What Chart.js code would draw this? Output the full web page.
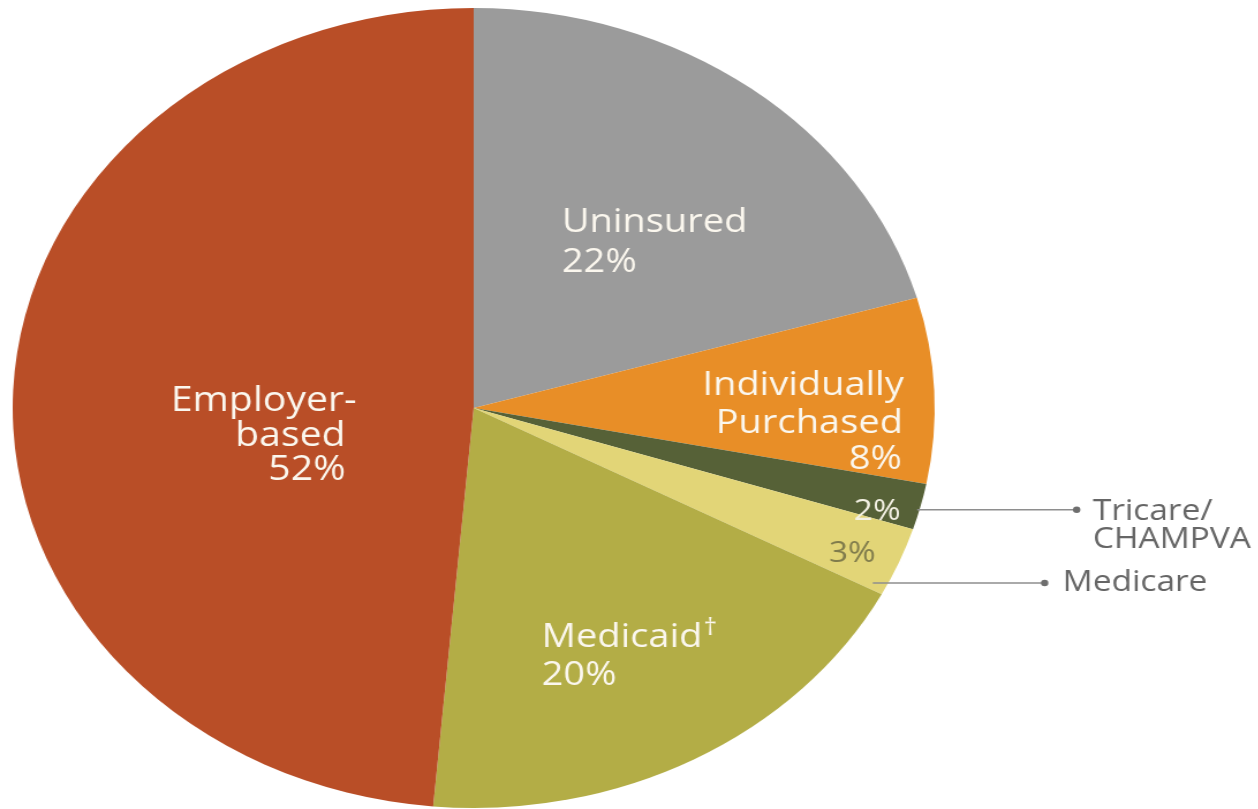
<!DOCTYPE html>
<html>
<head>
<meta charset="utf-8">
<script src="https://cdn.jsdelivr.net/npm/chart.js@4"></script>
<style>
  html, body { margin: 0; padding: 0; background: #ffffff; overflow: hidden; }
  #wrap { width: 1258px; height: 809px; overflow: hidden; }
  #c { transform: scaleX(1.1525); transform-origin: 0 0; display: block; }
</style>
</head>
<body>
<div id="wrap"><canvas id="c" width="1092" height="809"></canvas></div>
<script>
// ---- data ----
const categories = ["Uninsured", "Individually Purchased", "Tricare/CHAMPVA", "Medicare", "Medicaid", "Employer-based"];
const values = [22, 8, 2, 3, 20, 52];
const colors = ["#9b9b9b", "#e88e27", "#566137", "#e2d577", "#b3ad46", "#b94e27"];

// ---- label layout (normalized to pie radius) ----
const insideLabels = [
  { lines: ["Uninsured", "22%"], u: [0.191, 0.191], v: [-0.44, -0.34], align: "left", size: 33, color: "#fbf7ee" },
  { lines: ["Individually", "Purchased", "8%"], u: [0.933, 0.931, 0.929], v: [-0.0325, 0.062, 0.1525], align: "right", size: 33, color: "#fbf7ee" },
  { lines: ["2%"], u: [0.926], v: [0.28], align: "right", size: 29, color: "#f4f1e4" },
  { lines: ["3%"], u: [0.872], v: [0.385], align: "right", size: 29, color: "#807c4c" },
  { lines: ["Medicaid", "20%"], u: [0.1475, 0.1475], v: [0.5975, 0.6925], align: "left", size: 33, color: "#fbf7ee", dagger: 0 },
  { lines: ["Employer-", "based", "52%"], u: [-0.254, -0.278, -0.278], v: [0.0075, 0.095, 0.18], align: "right", size: 34, color: "#fbf7ee" }
];
const calloutLabels = [
  { index: 2, lines: ["Tricare/", "CHAMPVA"], f: 0.575, r: 0.995, dotU: 1.308, textU: 1.343, dy: [10, 38] },
  { index: 3, lines: ["Medicare"], f: 0.906, r: 0.97, dotU: 1.2386, textU: 1.2777, dy: [8] }
];

const FONT = "'Open Sans', 'Noto Sans', sans-serif";

const labelPlugin = {
  id: "pieLabels",
  afterDatasetsDraw(chart) {
    const ctx = chart.ctx;
    const meta = chart.getDatasetMeta(0);
    const a0 = meta.data[0];
    const cx = a0.x, cy = a0.y, R = a0.outerRadius;
    ctx.save();
    ctx.textBaseline = "alphabetic";
    insideLabels.forEach(l => {
      ctx.fillStyle = l.color;
      l.lines.forEach((t, i) => {
        ctx.font = "400 " + l.size + "px " + FONT;
        ctx.textAlign = l.align;
        const x = cx + l.u[i] * R;
        const y = cy + l.v[i] * R;
        ctx.fillText(t, x, y);
        if (l.dagger === i) {
          const w = ctx.measureText(t).width;
          ctx.font = "400 " + Math.round(l.size * 0.7) + "px " + FONT;
          ctx.textAlign = "left";
          ctx.fillText("\u2020", x + w + 1, y - l.size * 0.36);
        }
      });
    });
    calloutLabels.forEach(c => {
      const arc = meta.data[c.index];
      const ang = arc.startAngle + c.f * (arc.endAngle - arc.startAngle);
      const sx = cx + Math.cos(ang) * R * c.r;
      const sy = cy + Math.sin(ang) * R * c.r;
      const dx = cx + c.dotU * R;
      ctx.strokeStyle = "#8e8e8e";
      ctx.lineWidth = 1.6;
      ctx.beginPath();
      ctx.moveTo(sx, sy);
      ctx.lineTo(dx, sy);
      ctx.stroke();
      ctx.fillStyle = "#6e6e6e";
      ctx.beginPath();
      ctx.arc(dx, sy, 3.2, 0, Math.PI * 2);
      ctx.fill();
      ctx.font = "400 29px " + FONT;
      ctx.fillStyle = "#666666";
      ctx.textAlign = "left";
      c.lines.forEach((t, i) => ctx.fillText(t, cx + c.textU * R, sy + c.dy[i]));
    });
    ctx.restore();
  }
};

new Chart(document.getElementById("c"), {
  type: "pie",
  data: {
    labels: categories,
    datasets: [{
      data: values,
      backgroundColor: colors,
      borderWidth: 0,
      hoverOffset: 0
    }]
  },
  options: {
    responsive: false,
    animation: false,
    devicePixelRatio: 1,
    layout: { padding: { left: 11, right: 281, top: 8, bottom: 1 } },
    plugins: {
      legend: { display: false },
      tooltip: { enabled: false }
    }
  },
  plugins: [labelPlugin]
});
</script>
</body>
</html>
